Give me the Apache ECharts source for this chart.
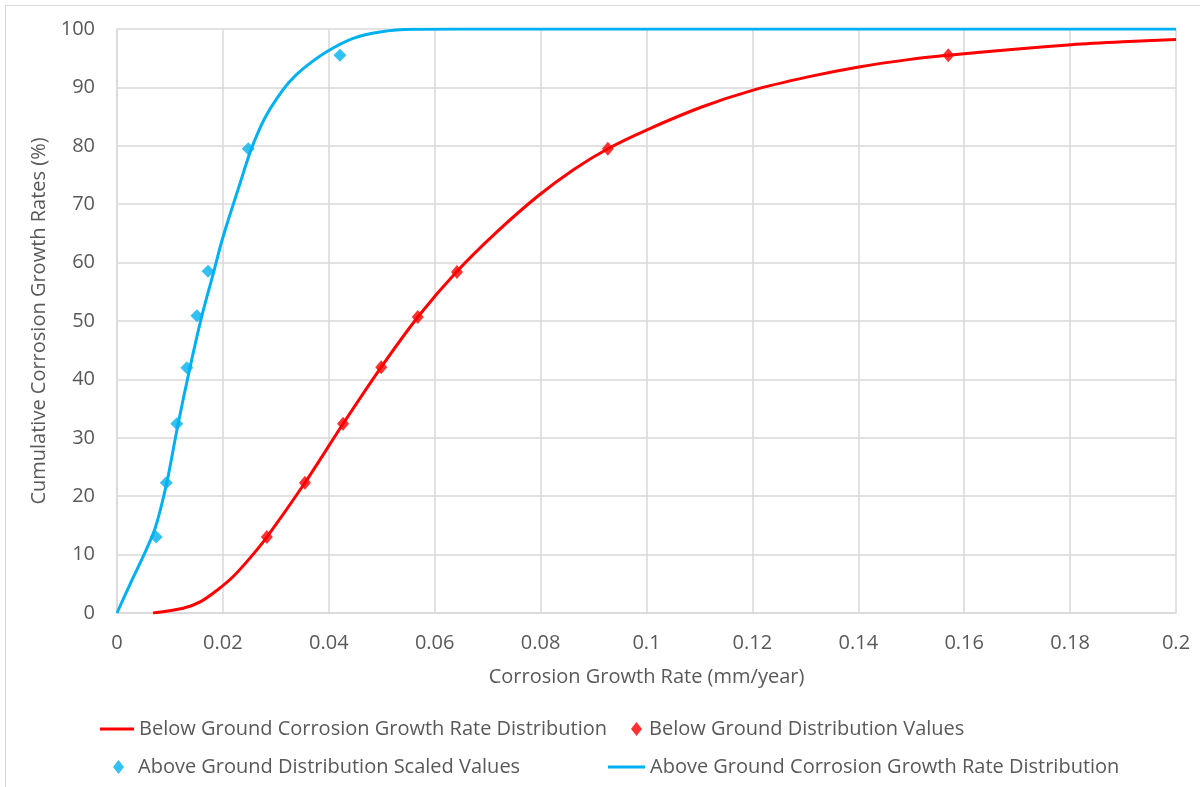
<!DOCTYPE html>
<html>
<head>
<meta charset="utf-8">
<script src="https://cdn.jsdelivr.net/npm/echarts@6/dist/echarts.min.js"></script>
<style>html,body{margin:0;padding:0;background:#fff}#c{width:1200px;height:787px}</style>
</head>
<body>
<div id="c"></div>
<script>
// Below-ground fitted distribution curve [rate, cumulative %]
const belowCurve = [[0.0068,0],[0.0125,0.8],[0.0157,1.9],[0.0189,3.9],[0.0219,6.2],[0.0251,9.4],[0.0283,13.0],[0.0355,22.3],[0.0427,32.4],[0.0499,42.1],[0.0570,50.9],[0.0641,58.4],[0.0718,65.3],[0.0795,71.4],[0.0862,75.9],[0.0927,79.5],[0.1,82.7],[0.1103,86.6],[0.12,89.5],[0.1305,91.8],[0.1401,93.5],[0.1498,94.8],[0.157,95.5],[0.169,96.5],[0.1802,97.3],[0.19,97.8],[0.2,98.2]];
// Below-ground distribution values
const belowValues = [[0.0283,13.0],[0.0355,22.3],[0.0427,32.4],[0.0499,42.1],[0.0568,50.7],[0.0642,58.4],[0.0927,79.5],[0.157,95.5]];
// Above-ground scaled values
const aboveValues = [[0.0074,13.0],[0.0093,22.3],[0.0113,32.4],[0.0132,42.0],[0.0151,50.9],[0.0172,58.5],[0.0248,79.5],[0.0421,95.5]];
// Above-ground fitted distribution curve
const aboveCurve = [[0,0],[0.0025,5],[0.0049,9.6],[0.0072,14.5],[0.0094,22.3],[0.0115,32.2],[0.0138,42.1],[0.0160,50.8],[0.0182,58.2],[0.0198,63.7],[0.0214,68.4],[0.0230,72.9],[0.0251,78.8],[0.0265,82.0],[0.0280,84.9],[0.0301,88.0],[0.0325,90.9],[0.0350,93.1],[0.0396,96.1],[0.0446,98.4],[0.0497,99.5],[0.0560,99.95],[0.065,100],[0.1,100],[0.15,100],[0.2,100]];
const xTicks = {min:0, max:0.2, interval:0.02};
const yTicks = {min:0, max:100, interval:10};

const names = ['Below Ground Corrosion Growth Rate Distribution','Below Ground Distribution Values','Above Ground Distribution Scaled Values','Above Ground Corrosion Growth Rate Distribution'];
const RED = '#FF0000', BLUE = '#00B0F0', TXT = '#595959', GRID = '#D9D9D9';
const FONT = 'Open Sans';

const chart = echarts.init(document.getElementById('c'), null, {renderer:'canvas'});
const ts = (extra) => Object.assign({color:TXT, fontSize:20, fontFamily:FONT}, extra||{});
const legendBase = {orient:'horizontal', padding:0, selectedMode:false};
chart.setOption({
  animation:false,
  backgroundColor:'#fff',
  graphic:[
    {type:'line', shape:{x1:5.5,y1:5.5,x2:1200,y2:5.5}, style:{stroke:'#D9D9D9', lineWidth:1}, silent:true, z:-10},
    {type:'line', shape:{x1:5.5,y1:5.5,x2:5.5,y2:787}, style:{stroke:'#D9D9D9', lineWidth:1}, silent:true, z:-10}
  ],
  grid:{left:117, right:24, top:29, bottom:174},
  xAxis:{type:'value', min:xTicks.min, max:xTicks.max, interval:xTicks.interval,
    name:'Corrosion Growth Rate (mm/year)', nameLocation:'middle', nameGap:54,
    nameTextStyle:ts(),
    axisLine:{show:true, lineStyle:{color:GRID, width:1.5}}, axisTick:{show:false},
    axisLabel:ts({margin:20, formatter:v=>String(+v.toFixed(2))}),
    splitLine:{show:true, lineStyle:{color:GRID, width:1.5}}},
  yAxis:{type:'value', min:yTicks.min, max:yTicks.max, interval:yTicks.interval,
    name:'Cumulative Corrosion Growth Rates (%)', nameLocation:'middle', nameGap:63,
    nameTextStyle:ts(),
    axisLine:{show:true, lineStyle:{color:GRID, width:1.5}}, axisTick:{show:false},
    axisLabel:ts({margin:22}),
    splitLine:{show:true, lineStyle:{color:GRID, width:1.5}}},
  legend:[
    Object.assign({}, legendBase, {left:100, top:719, itemWidth:34, itemHeight:3, textStyle:ts(), data:[{name:names[0], icon:'rect'}]}),
    Object.assign({}, legendBase, {left:631, top:719, itemWidth:11, itemHeight:14, textStyle:ts({padding:[0,0,0,2]}), data:[{name:names[1], icon:'diamond'}]}),
    Object.assign({}, legendBase, {left:113, top:757, itemWidth:11, itemHeight:14, textStyle:ts({padding:[0,0,0,9]}), data:[{name:names[2], icon:'diamond'}]}),
    Object.assign({}, legendBase, {left:608, top:757, itemWidth:37, itemHeight:3, textStyle:ts(), data:[{name:names[3], icon:'rect'}]})
  ],
  series:[
    {name:names[0], type:'line', data:belowCurve, smooth:0.3, showSymbol:false, symbol:'none', lineStyle:{color:RED, width:3}, itemStyle:{color:RED}, z:2},
    {name:names[1], type:'scatter', data:belowValues, symbol:'diamond', symbolSize:[12,14], itemStyle:{color:RED}, z:3},
    {name:names[2], type:'scatter', data:aboveValues, symbol:'diamond', symbolSize:[13,13], itemStyle:{color:BLUE}, z:3},
    {name:names[3], type:'line', data:aboveCurve, smooth:0.3, showSymbol:false, symbol:'none', lineStyle:{color:BLUE, width:3}, itemStyle:{color:BLUE}, z:2}
  ]
});
</script>
</body>
</html>
